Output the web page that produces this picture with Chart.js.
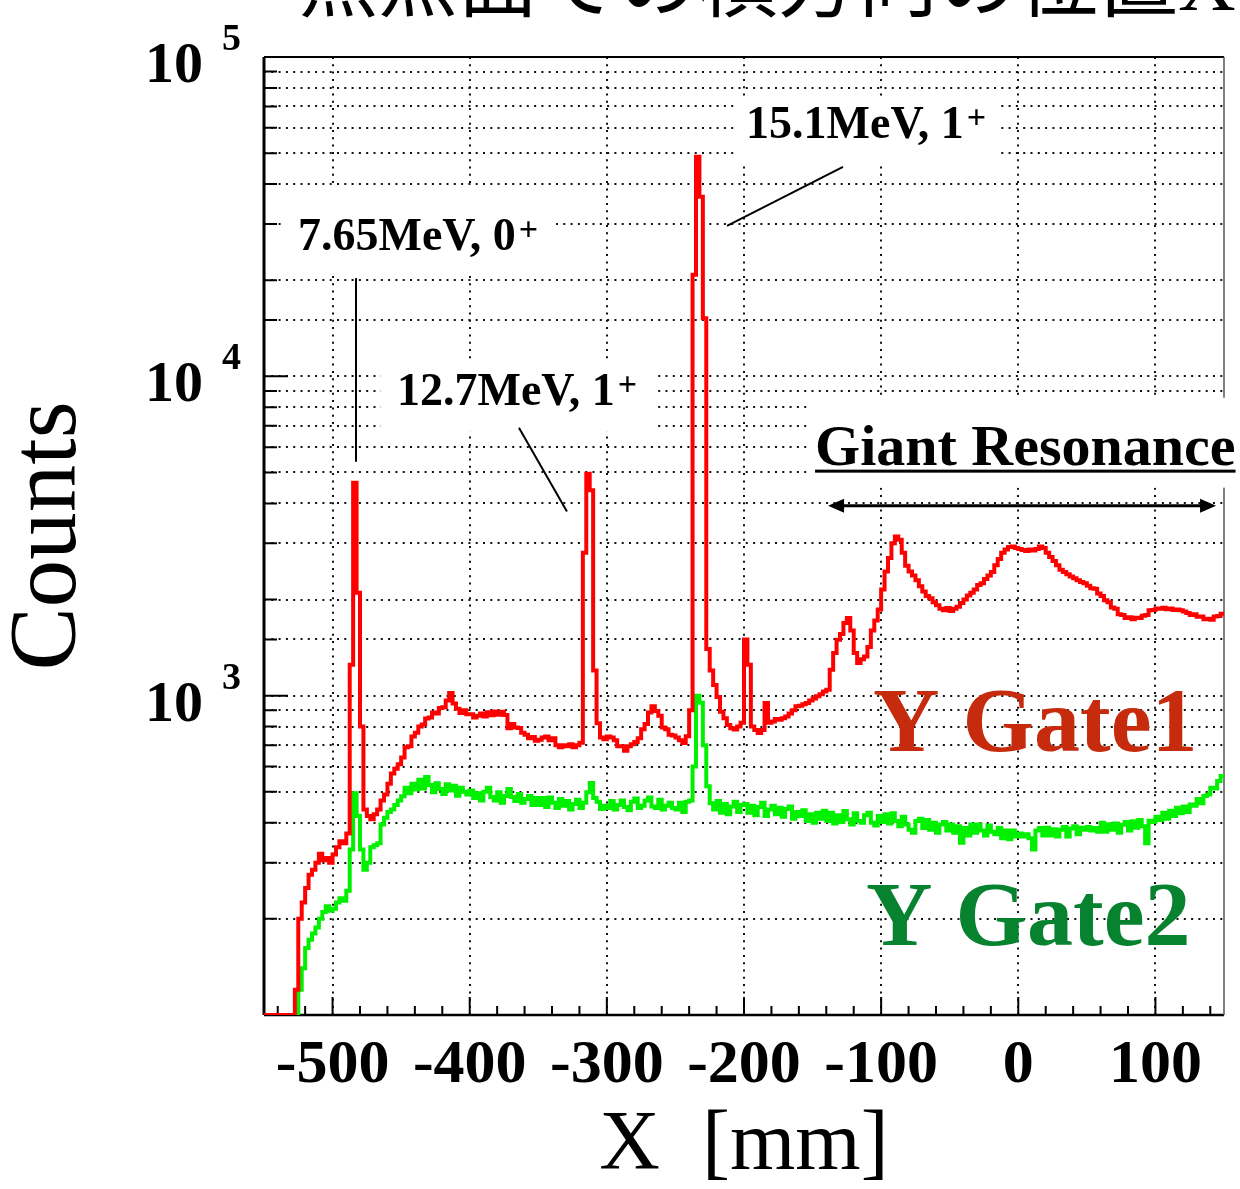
<!DOCTYPE html>
<html>
<head>
<meta charset="utf-8">
<script src="https://cdn.jsdelivr.net/npm/chart.js@4.4.0/dist/chart.umd.min.js"></script>
<style>
  html, body { margin: 0; padding: 0; background: #fff; }
  #wrap { width: 1240px; height: 1189px; position: relative; }
</style>
</head>
<body>
<div id="wrap"><canvas id="spectrum"></canvas></div>
<script>
// focal-plane X spectrum, 2.5 mm bins starting at -550 mm
const binStart = -550;
const binWidth = 2.5;

// Y gate 1 (red)
const gate1Counts = [
  0, 0, 0, 0, 0, 0, 0, 0, 0, 120, 200, 225, 250, 275, 285, 300, 320, 305, 310, 300,
  318, 335, 350, 345, 370, 1250, 4640, 2100, 800, 440, 420, 410, 425, 440, 470, 490, 530, 570, 590, 610,
  640, 690, 695, 745, 765, 800, 812, 848, 855, 885, 880, 915, 920, 965, 1020, 945, 910, 882, 900, 875,
  875, 855, 865, 880, 860, 888, 868, 892, 872, 890, 870, 790, 815, 795, 792, 765, 755, 735, 742, 722,
  728, 740, 745, 725, 735, 700, 690, 700, 695, 705, 690, 700, 712, 2800, 4950, 4400, 1200, 820, 740, 730,
  745, 740, 725, 695, 695, 672, 695, 705, 716, 735, 785, 815, 885, 926, 895, 865, 795, 785, 755, 750,
  740, 725, 711, 746, 900, 20800, 48700, 36500, 15200, 1400, 1200, 1080, 990, 890, 850, 810, 790, 783, 800, 822,
  1500, 1250, 800, 780, 764, 780, 949, 822, 830, 845, 841, 850, 860, 880, 900, 926, 930, 940, 949, 965,
  980, 995, 1010, 1030, 1044, 1206, 1360, 1497, 1560, 1690, 1750, 1600, 1360, 1265, 1300, 1327, 1420, 1600, 1720, 1860,
  2150, 2450, 2700, 3000, 3150, 3080, 2800, 2550, 2450, 2380, 2300, 2200, 2120, 2050, 2020, 1960, 1920, 1870, 1850, 1880,
  1840, 1870, 1900, 1950, 2000, 2060, 2100, 2150, 2220, 2250, 2320, 2380, 2440, 2560, 2680, 2800, 2870, 2920, 2930, 2900,
  2880, 2860, 2840, 2870, 2850, 2880, 2930, 2900, 2800, 2720, 2640, 2560, 2480, 2440, 2400, 2360, 2330, 2300, 2270, 2250,
  2210, 2170, 2160, 2090, 2050, 1990, 1960, 1890, 1870, 1800, 1790, 1750, 1760, 1735, 1755, 1750, 1780, 1790, 1850, 1855,
  1875, 1870, 1885, 1865, 1875, 1855, 1860, 1850, 1835, 1815, 1790, 1800, 1765, 1770, 1735, 1740, 1730, 1770, 1775, 1805
];

// Y gate 2 (green)
const gate2Counts = [
  0, 0, 0, 0, 0, 0, 0, 0, 0, 0, 120, 140, 162, 172, 180, 188, 200, 210, 219, 212,
  215, 225, 232, 228, 245, 330, 495, 420, 330, 285, 300, 335, 340, 345, 395, 415, 432, 440, 455, 470,
  484, 515, 495, 530, 508, 545, 512, 556, 525, 498, 532, 510, 492, 528, 505, 522, 486, 515, 500, 490,
  505, 478, 495, 470, 500, 515, 482, 470, 498, 462, 485, 510, 482, 468, 492, 462, 475, 485, 455, 478,
  455, 478, 448, 480, 462, 445, 475, 452, 468, 440, 458, 472, 445, 462, 498, 533, 478, 465, 442, 452,
  445, 468, 440, 455, 470, 448, 438, 465, 476, 445, 452, 470, 480, 450, 445, 472, 440, 452, 462, 445,
  440, 462, 432, 465, 470, 600, 1000, 950, 700, 520, 460, 440, 468, 430, 458, 425, 450, 465, 432, 455,
  458, 430, 452, 422, 448, 462, 420, 440, 452, 425, 446, 418, 442, 450, 412, 432, 420, 438, 405, 425,
  400, 430, 412, 436, 405, 430, 398, 422, 402, 435, 410, 395, 428, 405, 400, 422, 430, 400, 392, 420,
  402, 425, 398, 428, 405, 390, 418, 395, 380, 372, 405, 412, 385, 408, 380, 400, 372, 395, 402, 378,
  395, 372, 390, 346, 385, 365, 395, 372, 395, 378, 365, 392, 375, 368, 385, 358, 378, 355, 378, 362,
  370, 362, 368, 358, 330, 378, 385, 365, 386, 365, 382, 362, 380, 388, 362, 384, 390, 368, 386, 380,
  388, 378, 385, 375, 400, 375, 396, 380, 398, 372, 394, 402, 378, 404, 386, 408, 390, 345, 406, 402,
  418, 408, 430, 412, 436, 420, 446, 428, 450, 432, 456, 452, 475, 460, 485, 490, 515, 512, 540, 560
];

const xTickLabels = [-500, -400, -300, -200, -100, 0, 100];
const yDecadeExps = [3, 4, 5];
const yMin = 100;
const yMax = 100000;

const serif = '"Liberation Serif", "Times New Roman", serif';

// level labels: anchor in data units, white box offsets in px around the anchor
const peakLabels = [
  { text: '7.65MeV, 0', sup: '+', x: -525.2, y: 24900, box: [-17, -63, 258, 23] },
  { text: '12.7MeV, 1', sup: '+', x: -453, y: 8150, box: [-16, -43, 256, 27] },
  { text: '15.1MeV, 1', sup: '+', x: -198.5, y: 55700, box: [-11, -40, 254, 24] }
];
const leaderLines = [
  [[-482.9, 20300], [-482.9, 5400]],
  [[-364.1, 6900], [-329.1, 3770]],
  [[-127.8, 45300], [-212.4, 29600]]
];
const giantLabel = { text: 'Giant Resonance', x: -148.2, y: 5290, box: [-7, -67, 425, 23] };
const giantArrow = { x1: -138.7, x2: 144.2, y: 3930 };
const gateLabels = [
  { text: 'Y Gate1', x: -105.9, y: 673, color: '#c62b0d' },
  { text: 'Y Gate2', x: -111, y: 166, color: '#07822f' }
];

function toPoints(counts) {
  const pts = counts.map((c, i) => ({ x: binStart + i * binWidth, y: Math.max(c, yMin) }));
  pts.push({ x: binStart + counts.length * binWidth, y: pts[pts.length - 1].y });
  return pts;
}

function toPx(chart, x, y) {
  return [chart.scales.x.getPixelForValue(x), chart.scales.y.getPixelForValue(y)];
}

const frameAndMarks = {
  id: 'frameAndMarks',
  beforeDatasetsDraw(chart) {
    const { ctx, chartArea: a, scales: { x, y } } = chart;
    ctx.save();
    ctx.setLineDash([]);
    ctx.strokeStyle = '#000';

    // inner tick marks
    ctx.lineWidth = 2;
    ctx.beginPath();
    for (let v = -540; v < 150; v += 20) {
      const p = x.getPixelForValue(v);
      const len = v % 100 === 0 ? 18 : 9;
      ctx.moveTo(p, a.bottom);
      ctx.lineTo(p, a.bottom - len);
    }
    for (const t of y.ticks) {
      if (t.value <= yMin || t.value >= yMax) continue;
      const p = y.getPixelForValue(t.value);
      const lg = Math.log10(t.value);
      const len = Math.abs(lg - Math.round(lg)) < 1e-9 ? 24 : 13;
      ctx.moveTo(a.left, p);
      ctx.lineTo(a.left + len, p);
    }
    ctx.stroke();

    // frame
    ctx.lineWidth = 3;
    ctx.beginPath(); ctx.moveTo(a.left, a.top); ctx.lineTo(a.left, a.bottom); ctx.stroke();
    ctx.lineWidth = 2.5;
    ctx.beginPath(); ctx.moveTo(a.left, a.bottom); ctx.lineTo(a.right, a.bottom); ctx.stroke();
    ctx.lineWidth = 2;
    ctx.beginPath(); ctx.moveTo(a.left, a.top); ctx.lineTo(a.right, a.top); ctx.stroke();
    ctx.strokeStyle = '#555';
    ctx.lineWidth = 1.5;
    ctx.beginPath(); ctx.moveTo(a.right, a.top); ctx.lineTo(a.right, a.bottom); ctx.stroke();

    // white boxes behind labels
    ctx.fillStyle = '#fff';
    for (const lab of [...peakLabels, giantLabel]) {
      const [px, py] = toPx(chart, lab.x, lab.y);
      const b = lab.box;
      ctx.fillRect(px + b[0], py + b[1], b[2] - b[0], b[3] - b[1]);
    }

    // leader lines
    ctx.strokeStyle = '#000';
    ctx.lineWidth = 2;
    for (const [p0, p1] of leaderLines) {
      const [ax, ay] = toPx(chart, p0[0], p0[1]);
      const [bx, by] = toPx(chart, p1[0], p1[1]);
      ctx.beginPath(); ctx.moveTo(ax, ay); ctx.lineTo(bx, by); ctx.stroke();
    }

    // double arrow under the giant resonance label
    const [l, ya] = toPx(chart, giantArrow.x1, giantArrow.y);
    const [r] = toPx(chart, giantArrow.x2, giantArrow.y);
    ctx.lineWidth = 3;
    ctx.beginPath(); ctx.moveTo(l + 10, ya); ctx.lineTo(r - 10, ya); ctx.stroke();
    ctx.fillStyle = '#000';
    ctx.beginPath(); ctx.moveTo(l, ya); ctx.lineTo(l + 16, ya - 7); ctx.lineTo(l + 16, ya + 7); ctx.closePath(); ctx.fill();
    ctx.beginPath(); ctx.moveTo(r, ya); ctx.lineTo(r - 16, ya - 7); ctx.lineTo(r - 16, ya + 7); ctx.closePath(); ctx.fill();
    ctx.restore();
  },
  afterDatasetsDraw(chart) {
    const { ctx, chartArea: a, scales: { y } } = chart;
    ctx.save();
    ctx.fillStyle = '#000';
    ctx.textBaseline = 'alphabetic';

    // decade labels 10^n
    for (const e of yDecadeExps) {
      const p = y.getPixelForValue(Math.pow(10, e));
      ctx.font = 'bold 58px ' + serif;
      ctx.textAlign = 'right';
      ctx.fillText('10', a.left - 61, p + 25);
      ctx.font = 'bold 38px ' + serif;
      ctx.textAlign = 'left';
      ctx.fillText(String(e), a.left - 42, p - 7);
    }

    // level labels
    ctx.textAlign = 'left';
    for (const lab of peakLabels) {
      const [px, py] = toPx(chart, lab.x, lab.y);
      ctx.font = 'bold 46px ' + serif;
      ctx.fillText(lab.text, px, py);
      const w = ctx.measureText(lab.text).width;
      ctx.font = 'bold 34px ' + serif;
      ctx.fillText(lab.sup, px + w + 3, py - 10);
    }

    // giant resonance, underlined
    const [gx, gy] = toPx(chart, giantLabel.x, giantLabel.y);
    ctx.font = 'bold 58px ' + serif;
    ctx.fillText(giantLabel.text, gx, gy);
    const gw = ctx.measureText(giantLabel.text).width;
    ctx.fillRect(gx, gy + 5, gw, 3);

    // gate names
    ctx.font = 'bold 92px ' + serif;
    for (const g of gateLabels) {
      const [px, py] = toPx(chart, g.x, g.y);
      ctx.fillStyle = g.color;
      ctx.fillText(g.text, px, py);
    }

    // slide heading, clipped by the top edge
    ctx.fillStyle = '#000';
    ctx.font = '80px ' + serif + ', "Noto Sans CJK JP"';
    ctx.fillText('焦点面での横方向の位置X', 298, 10);
    ctx.restore();
  }
};

const gridDash = [2, 5.3];

new Chart(document.getElementById('spectrum'), {
  type: 'line',
  data: {
    datasets: [
      {
        label: 'Y Gate1',
        data: toPoints(gate1Counts),
        borderColor: '#ff0000',
        borderWidth: 4,
        pointRadius: 0,
        stepped: true,
        fill: false
      },
      {
        label: 'Y Gate2',
        data: toPoints(gate2Counts),
        borderColor: '#00f000',
        borderWidth: 4,
        pointRadius: 0,
        stepped: true,
        fill: false
      }
    ]
  },
  options: {
    responsive: true,
    maintainAspectRatio: false,
    devicePixelRatio: 1,
    animation: false,
    layout: { padding: { top: 57, right: 16, left: 0, bottom: 0 } },
    plugins: {
      legend: { display: false },
      tooltip: { enabled: false }
    },
    scales: {
      x: {
        type: 'linear',
        min: -550,
        max: 150,
        afterFit: s => { s.height = 174; },
        afterBuildTicks: s => { s.ticks = xTickLabels.map(v => ({ value: v })); },
        grid: {
          drawTicks: false,
          lineWidth: 2,
          color: '#111'
        },
        border: { display: false, dash: gridDash },
        ticks: {
          autoSkip: false,
          maxRotation: 0,
          padding: 14,
          color: '#000',
          font: { family: serif, size: 62, weight: 'bold' },
          callback: v => String(v)
        },
        title: {
          display: true,
          text: 'X  [mm]',
          color: '#000',
          padding: 0,
          font: { family: serif, size: 84, lineHeight: 1.0 }
        }
      },
      y: {
        type: 'logarithmic',
        min: yMin,
        max: yMax,
        afterFit: s => { s.width = 264; },
        grid: {
          drawTicks: false,
          lineWidth: 2,
          color: c => {
            const v = c.tick && c.tick.value;
            return (v > yMin && v < yMax) ? '#111' : 'rgba(0,0,0,0)';
          }
        },
        border: { display: false, dash: gridDash },
        ticks: { display: false },
        title: {
          display: true,
          text: 'Counts',
          color: '#000',
          padding: 0,
          font: { family: serif, size: 95, lineHeight: 1.05 }
        }
      }
    }
  },
  plugins: [frameAndMarks]
});
</script>
</body>
</html>
